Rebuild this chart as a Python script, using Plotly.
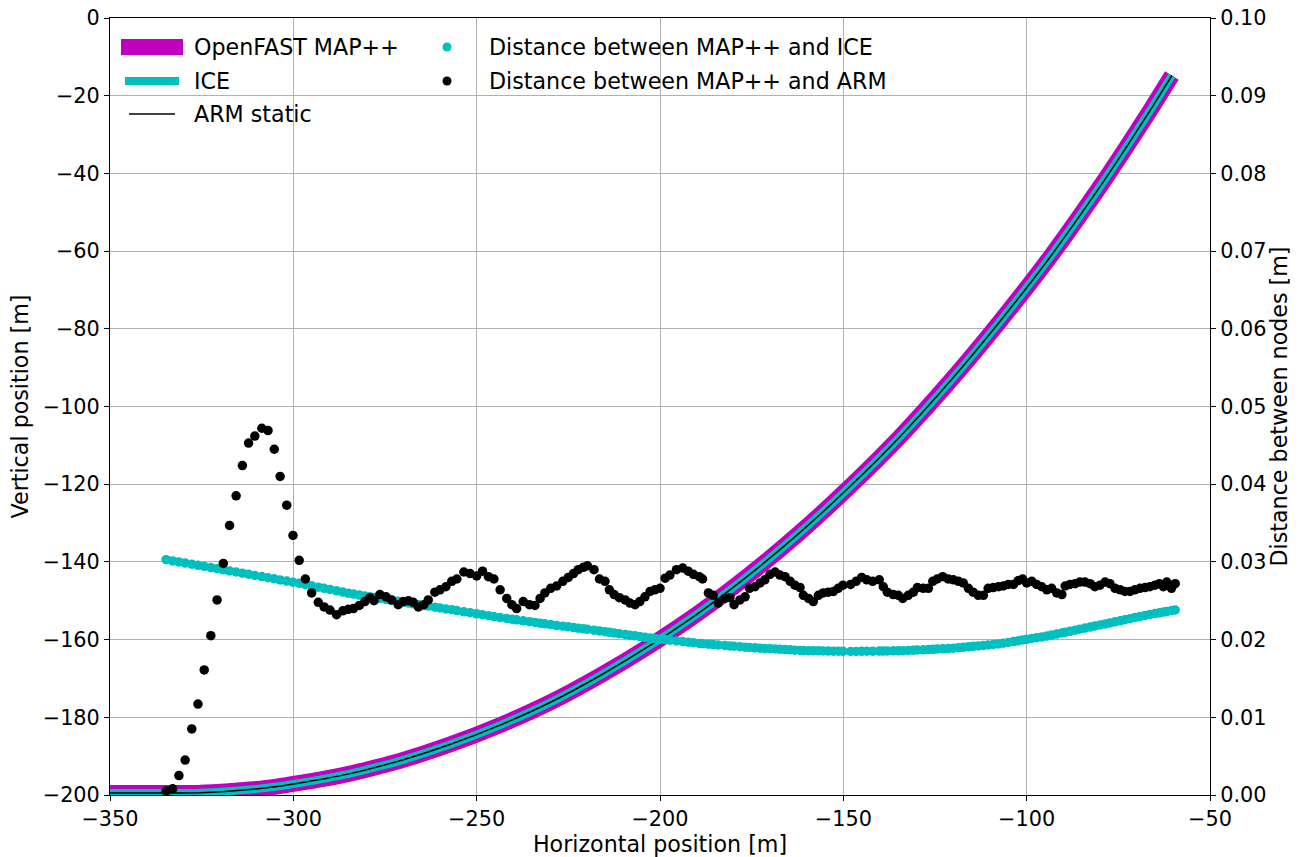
import plotly.graph_objects as go

# ---------------- data ----------------
# mooring line shape (same static profile for MAP++, ICE and ARM)
line_x = [-350.0, -332.3, -325.5, -318.6, -311.8, -305.0, -298.2, -291.4, -284.5, -277.7,
          -270.9, -257.3, -243.6, -230.0, -216.4, -202.7, -189.1, -175.5, -161.8, -148.2,
          -134.5, -120.9, -107.3, -93.6, -80.0, -73.2, -66.4, -60.4]
line_y = [-199.5, -199.5, -199.4, -199.1, -198.6, -197.9, -196.9, -195.8, -194.5, -192.9,
          -191.2, -187.0, -182.0, -176.2, -169.3, -161.5, -152.9, -143.2, -132.4, -120.6,
          -107.7, -93.5, -78.1, -61.5, -43.4, -33.8, -23.9, -14.8]

# node horizontal positions
node_x = [-334.7, -332.9, -331.2, -329.5, -327.7, -326.0, -324.3, -322.5, -320.8, -319.1,
          -317.4, -315.6, -313.9, -312.2, -310.5, -308.6, -306.9, -305.2, -303.6, -301.8,
          -300.1, -298.4, -296.7, -295.0, -293.2, -291.6, -290.0, -288.2, -286.5, -285.0,
          -283.6, -282.0, -280.5, -279.1, -278.0, -276.4, -274.7, -273.2, -271.4, -270.0,
          -268.6, -267.3, -265.9, -264.4, -263.2, -261.4, -260.0, -258.4, -256.8, -255.4,
          -253.5, -251.8, -250.0, -248.4, -246.8, -245.3, -243.6, -241.8, -240.4, -239.1,
          -237.3, -235.6, -234.1, -232.7, -231.4, -229.8, -228.2, -226.5, -225.0, -223.6,
          -222.3, -220.9, -219.8, -218.0, -216.5, -215.0, -213.8, -212.5, -211.1, -209.5,
          -208.2, -206.8, -205.5, -204.1, -202.7, -201.4, -200.0, -198.6, -197.3, -195.5,
          -193.8, -192.3, -190.9, -189.3, -188.4, -186.8, -185.5, -184.1, -182.3, -180.9,
          -179.8, -178.2, -176.8, -175.6, -174.1, -172.7, -171.4, -170.0, -168.6, -167.3,
          -165.9, -164.5, -163.2, -161.8, -160.9, -159.5, -158.2, -156.8, -155.5, -154.1,
          -152.7, -151.4, -150.1, -148.0, -146.5, -145.0, -143.6, -142.0, -140.2, -139.1,
          -138.0, -136.4, -135.0, -133.8, -132.3, -130.9, -129.8, -128.2, -126.8, -125.6,
          -124.4, -122.9, -121.4, -120.0, -118.6, -117.3, -115.9, -114.6, -113.2, -111.8,
          -110.5, -109.1, -107.7, -106.4, -105.0, -103.6, -102.3, -101.1, -100.0, -98.6,
          -97.3, -95.9, -94.5, -93.2, -91.8, -90.4, -89.5, -88.2, -86.8, -85.5,
          -84.1, -82.7, -81.4, -80.0, -78.6, -77.3, -75.9, -74.5, -73.2, -71.8,
          -70.5, -69.1, -67.7, -66.4, -65.0, -63.8, -62.7, -61.8, -60.5, -59.5]

# distance between MAP++ and ICE nodes [m]
dist_ice = [0.03029, 0.03013, 0.02999, 0.02985, 0.02970, 0.02956, 0.02941, 0.02927, 0.02913, 0.02898,
            0.02884, 0.02870, 0.02855, 0.02841, 0.02826, 0.02811, 0.02796, 0.02782, 0.02768, 0.02753,
            0.02738, 0.02724, 0.02708, 0.02692, 0.02675, 0.02660, 0.02645, 0.02628, 0.02612, 0.02597,
            0.02586, 0.02573, 0.02561, 0.02551, 0.02543, 0.02530, 0.02517, 0.02505, 0.02492, 0.02481,
            0.02471, 0.02461, 0.02451, 0.02440, 0.02431, 0.02417, 0.02407, 0.02395, 0.02384, 0.02373,
            0.02358, 0.02346, 0.02332, 0.02320, 0.02308, 0.02296, 0.02284, 0.02272, 0.02263, 0.02254,
            0.02242, 0.02231, 0.02221, 0.02212, 0.02203, 0.02193, 0.02183, 0.02173, 0.02164, 0.02155,
            0.02147, 0.02139, 0.02132, 0.02121, 0.02112, 0.02102, 0.02094, 0.02086, 0.02076, 0.02066,
            0.02057, 0.02048, 0.02039, 0.02030, 0.02021, 0.02014, 0.02007, 0.02000, 0.01993, 0.01983,
            0.01975, 0.01967, 0.01960, 0.01951, 0.01947, 0.01941, 0.01936, 0.01931, 0.01924, 0.01919,
            0.01915, 0.01908, 0.01903, 0.01899, 0.01894, 0.01890, 0.01887, 0.01883, 0.01879, 0.01875,
            0.01871, 0.01868, 0.01864, 0.01860, 0.01859, 0.01858, 0.01857, 0.01855, 0.01854, 0.01853,
            0.01851, 0.01850, 0.01849, 0.01847, 0.01848, 0.01849, 0.01850, 0.01851, 0.01852, 0.01853,
            0.01854, 0.01855, 0.01856, 0.01858, 0.01861, 0.01864, 0.01866, 0.01869, 0.01872, 0.01875,
            0.01878, 0.01881, 0.01884, 0.01889, 0.01895, 0.01901, 0.01907, 0.01913, 0.01919, 0.01925,
            0.01931, 0.01937, 0.01944, 0.01953, 0.01964, 0.01975, 0.01985, 0.01995, 0.02003, 0.02014,
            0.02025, 0.02035, 0.02046, 0.02058, 0.02071, 0.02085, 0.02094, 0.02107, 0.02121, 0.02134,
            0.02148, 0.02161, 0.02175, 0.02188, 0.02202, 0.02215, 0.02229, 0.02242, 0.02256, 0.02269,
            0.02283, 0.02296, 0.02310, 0.02323, 0.02335, 0.02344, 0.02354, 0.02361, 0.02373, 0.02381]

# distance between MAP++ and ARM nodes [m]
dist_arm = [0.0005, 0.0008, 0.0025, 0.0045, 0.0085, 0.0117, 0.0161, 0.0205, 0.0251, 0.0298,
            0.0347, 0.0385, 0.0424, 0.0453, 0.0462, 0.0472, 0.0469, 0.0445, 0.0410, 0.0373,
            0.0334, 0.0302, 0.0278, 0.0260, 0.0248, 0.0242, 0.0238, 0.0232, 0.0237, 0.0239,
            0.0240, 0.0244, 0.0249, 0.0254, 0.0250, 0.0258, 0.0255, 0.0251, 0.0245, 0.0249,
            0.0250, 0.0248, 0.0242, 0.0245, 0.0251, 0.0261, 0.0264, 0.0268, 0.0275, 0.0278,
            0.0287, 0.0285, 0.0282, 0.0288, 0.0281, 0.0278, 0.0264, 0.0253, 0.0245, 0.0240,
            0.0249, 0.0245, 0.0244, 0.0253, 0.0260, 0.0266, 0.0269, 0.0275, 0.0280, 0.0285,
            0.0290, 0.0293, 0.0295, 0.0290, 0.0278, 0.0275, 0.0264, 0.0258, 0.0254, 0.0251,
            0.0247, 0.0245, 0.0249, 0.0255, 0.0262, 0.0264, 0.0266, 0.0279, 0.0283, 0.0290,
            0.0292, 0.0288, 0.0284, 0.0281, 0.0278, 0.0260, 0.0257, 0.0247, 0.0253, 0.0254,
            0.0245, 0.0251, 0.0255, 0.0266, 0.0268, 0.0273, 0.0277, 0.0284, 0.0287, 0.0283,
            0.0281, 0.0275, 0.0270, 0.0267, 0.0257, 0.0253, 0.0249, 0.0257, 0.0260, 0.0261,
            0.0262, 0.0266, 0.0270, 0.0271, 0.0275, 0.0280, 0.0277, 0.0275, 0.0277, 0.0268,
            0.0261, 0.0258, 0.0257, 0.0253, 0.0257, 0.0261, 0.0267, 0.0266, 0.0266, 0.0275,
            0.0278, 0.0281, 0.0278, 0.0277, 0.0275, 0.0273, 0.0266, 0.0261, 0.0257, 0.0257,
            0.0266, 0.0267, 0.0268, 0.0269, 0.0271, 0.0271, 0.0276, 0.0278, 0.0273, 0.0275,
            0.0271, 0.0268, 0.0264, 0.0266, 0.0260, 0.0258, 0.0269, 0.0271, 0.0272, 0.0274,
            0.0274, 0.0272, 0.0268, 0.0270, 0.0274, 0.0272, 0.0266, 0.0264, 0.0262, 0.0262,
            0.0264, 0.0266, 0.0267, 0.0268, 0.0270, 0.0272, 0.0268, 0.0274, 0.0266, 0.0272]

line_names = ["OpenFAST MAP++", "ICE", "ARM static"]
dot_names = ["Distance between MAP++ and ICE", "Distance between MAP++ and ARM"]
x_ticks = [-350, -300, -250, -200, -150, -100, -50]

# ---------------- styles ----------------
MAGENTA = "#bf00bf"
CYAN = "#00bfbf"
FONT = "DejaVu Sans"
FS = 22.2      # labels / legend (16 pt)
FT = 20.8      # tick labels

fig = go.Figure()
fig.add_trace(go.Scatter(x=line_x, y=line_y, mode="lines", name=line_names[0],
                         line=dict(color=MAGENTA, width=16, shape="spline", smoothing=0.6),
                         showlegend=False))
fig.add_trace(go.Scatter(x=line_x, y=line_y, mode="lines", name=line_names[1],
                         line=dict(color=CYAN, width=8, shape="spline", smoothing=0.6),
                         showlegend=False))
fig.add_trace(go.Scatter(x=line_x, y=line_y, mode="lines", name=line_names[2],
                         line=dict(color="black", width=1.5, shape="spline", smoothing=0.6),
                         showlegend=False))
fig.add_trace(go.Scatter(x=node_x, y=dist_ice, mode="markers", name=dot_names[0], yaxis="y2",
                         marker=dict(color=CYAN, size=9.5, line=dict(width=0)), showlegend=False))
fig.add_trace(go.Scatter(x=node_x, y=dist_arm, mode="markers", name=dot_names[1], yaxis="y2",
                         marker=dict(color="black", size=9.5, line=dict(width=0)), showlegend=False))

axis_common = dict(showline=True, linecolor="black", linewidth=1, ticks="outside", ticklen=5,
                   tickwidth=1, tickcolor="black", zeroline=False, automargin=False,
                   tickfont=dict(family=FONT, size=FT, color="black"))

fig.update_layout(
    width=1300, height=857,
    margin=dict(l=110, r=90, t=18, b=62, autoexpand=False),
    paper_bgcolor="white", plot_bgcolor="white",
    font=dict(family=FONT, size=FS, color="black"),
    xaxis=dict(range=[-350, -50], tickvals=x_ticks, showgrid=True, gridcolor="#b0b0b0",
               gridwidth=1, mirror=True,
               title=dict(text="Horizontal position [m]", font=dict(family=FONT, size=FS), standoff=0),
               **axis_common),
    yaxis=dict(range=[-200, 0], dtick=20, showgrid=True, gridcolor="#b0b0b0", gridwidth=1,
               title=dict(text="Vertical position [m]", font=dict(family=FONT, size=FS), standoff=7),
               **axis_common),
    yaxis2=dict(range=[0, 0.10], dtick=0.01, tickformat=".2f", overlaying="y", side="right",
                showgrid=False,
                title=dict(text="Distance between nodes [m]", font=dict(family=FONT, size=FS), standoff=5),
                **axis_common),
)

# ---------------- legend (drawn manually, two columns) ----------------
def px_x(p):
    return (p - 110) / 1100.0

def px_y(p):
    return (795 - p) / 777.0

rows = [47, 81, 114]
handles = [(121, 183, MAGENTA, 16), (125, 179, CYAN, 8), (129, 175, "black", 1.5)]
for (x0, x1, col, w), r in zip(handles, rows):
    fig.add_shape(type="line", xref="paper", yref="paper", x0=px_x(x0), x1=px_x(x1),
                  y0=px_y(r), y1=px_y(r), line=dict(color=col, width=w))
for name, r in zip(line_names, rows):
    fig.add_annotation(xref="paper", yref="paper", x=px_x(192), y=px_y(r), text=name,
                       showarrow=False, xanchor="left", yanchor="middle",
                       font=dict(family=FONT, size=FS, color="black"))
for name, col, r in zip(dot_names, [CYAN, "black"], rows[:2]):
    fig.add_shape(type="circle", xref="paper", yref="paper", xsizemode="pixel", ysizemode="pixel",
                  xanchor=px_x(447), yanchor=px_y(r), x0=-4.5, x1=4.5, y0=-4.5, y1=4.5,
                  fillcolor=col, line=dict(width=0))
    fig.add_annotation(xref="paper", yref="paper", x=px_x(487), y=px_y(r), text=name,
                       showarrow=False, xanchor="left", yanchor="middle",
                       font=dict(family=FONT, size=FS, color="black"))

fig.write_html("out.html")
